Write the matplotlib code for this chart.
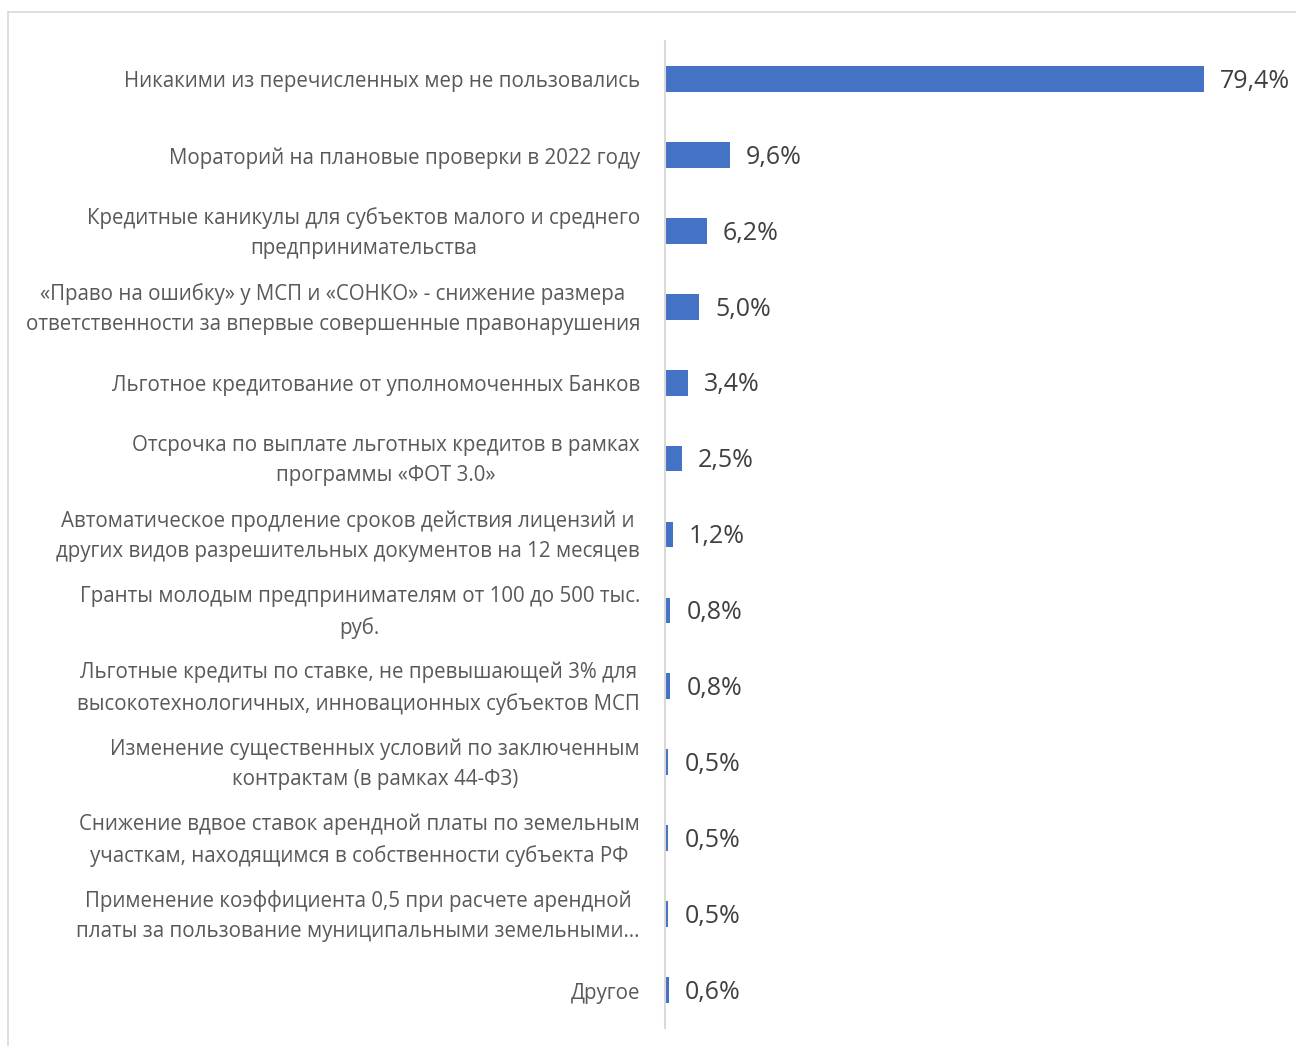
import matplotlib
matplotlib.use("Agg")
import matplotlib.pyplot as plt
import matplotlib.transforms as mtransforms
from matplotlib.lines import Line2D

categories = [
    "Никакими из перечисленных мер не пользовались",
    "Мораторий на плановые проверки в 2022 году",
    "Кредитные каникулы для субъектов малого и среднего\nпредпринимательства",
    "«Право на ошибку» у МСП и «СОНКО» - снижение размера\nответственности за впервые совершенные правонарушения",
    "Льготное кредитование от уполномоченных Банков",
    "Отсрочка по выплате льготных кредитов в рамках\nпрограммы «ФОТ 3.0»",
    "Автоматическое продление сроков действия лицензий и\nдругих видов разрешительных документов на 12 месяцев",
    "Гранты молодым предпринимателям от 100 до 500 тыс.\nруб.",
    "Льготные кредиты по ставке, не превышающей 3% для\nвысокотехнологичных, инновационных субъектов МСП",
    "Изменение существенных условий по заключенным\nконтрактам (в рамках 44-ФЗ)",
    "Снижение вдвое ставок арендной платы по земельным\nучасткам, находящимся в собственности субъекта РФ",
    "Применение коэффициента 0,5 при расчете арендной\nплаты за пользование муниципальными земельными…",
    "Другое",
]
values = [79.4, 9.6, 6.2, 5.0, 3.4, 2.5, 1.2, 0.8, 0.8, 0.5, 0.5, 0.5, 0.6]
value_labels = ["79,4%", "9,6%", "6,2%", "5,0%", "3,4%", "2,5%", "1,2%",
                "0,8%", "0,8%", "0,5%", "0,5%", "0,5%", "0,6%"]

plt.rcParams['font.family'] = ['Open Sans', 'DejaVu Sans']

W, H = 1296, 1046
fig = plt.figure(figsize=(W / 100, H / 100), dpi=100)

ax_left = 665 / W
ax_right = 1296 / W
ax_top = 1 - 41 / H
ax_bottom = 1 - 1028 / H
ax = fig.add_axes([ax_left, ax_bottom, ax_right - ax_left, ax_top - ax_bottom])

px_per_unit = 539 / 79.4
xmax = (1296 - 665) / px_per_unit

y = list(range(len(categories)))
ax.barh(y, values, height=0.34, color="#4472C4")
ax.set_xlim(0, xmax)
ax.set_ylim(len(categories) - 0.5, -0.5)

for yi, v, lab in zip(y, values, value_labels):
    ax.text(v + 16 / px_per_unit, yi + 0.03, lab, va="center", ha="left",
            fontsize=18, color="#404040")

# category labels drawn as text to the left of the axis
base = ax.get_yaxis_transform()
for yi, cat in zip(y, categories):
    dy = -2 if "\n" in cat else -3
    tr = base + mtransforms.ScaledTranslation(-25 / 100, dy / 100, fig.dpi_scale_trans)
    ax.text(0, yi, cat, transform=tr, ha="right", va="center",
            multialignment="center", fontsize=14.8, color="#595959",
            linespacing=1.56)

ax.set_yticks([])
ax.set_xticks([])
for s in ["top", "right", "bottom"]:
    ax.spines[s].set_visible(False)
ax.spines["left"].set_color("#d9d9d9")
ax.spines["left"].set_linewidth(1.5)
ax.set_facecolor("none")

# outer chart border
bx = 8 / W
by = 1 - 12 / H
fig.add_artist(Line2D([bx, 1], [by, by], transform=fig.transFigure,
                      color="#d9d9d9", lw=1.2))
fig.add_artist(Line2D([bx, bx], [0, by], transform=fig.transFigure,
                      color="#d9d9d9", lw=1.2))

fig.savefig("out.png", dpi=100)
